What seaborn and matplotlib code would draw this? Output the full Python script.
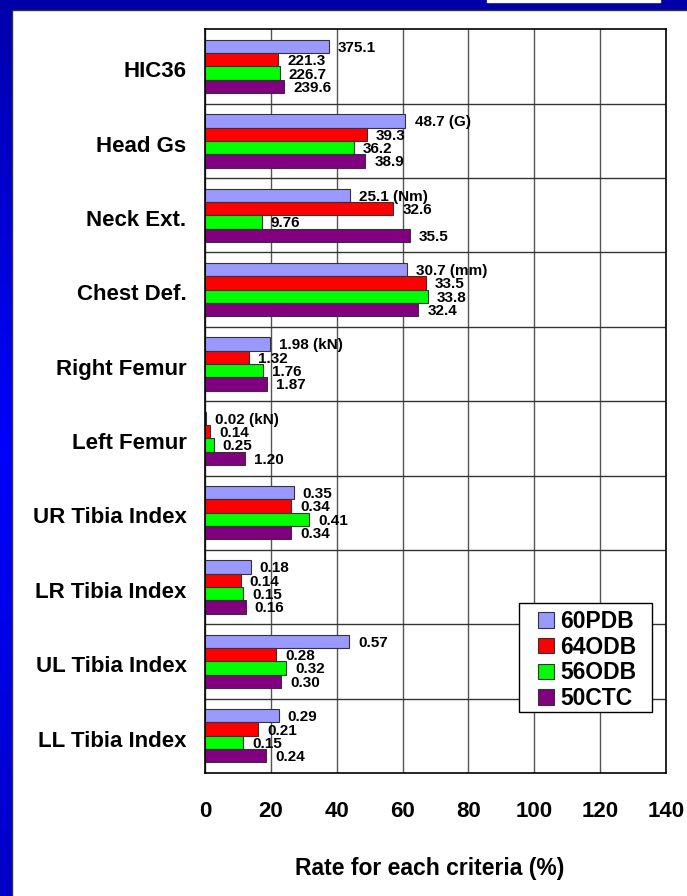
import matplotlib
matplotlib.use("Agg")
import matplotlib.pyplot as plt
import matplotlib.patches as patches
from matplotlib.lines import Line2D
from matplotlib.transforms import ScaledTranslation
import numpy as np
import pandas as pd
import seaborn as sns

# criteria and measured values (labels as printed on the chart)
categories = ["HIC36", "Head Gs", "Neck Ext.", "Chest Def.", "Right Femur",
              "Left Femur", "UR Tibia Index", "LR Tibia Index",
              "UL Tibia Index", "LL Tibia Index"]
criteria = [1000, 80, 57, 50, 10, 10, 1.3, 1.3, 1.3, 1.3]
units = ["", " (G)", " (Nm)", " (mm)", " (kN)", " (kN)", "", "", "", ""]

series = ["60PDB", "64ODB", "56ODB", "50CTC"]
raw_60pdb = ["375.1", "48.7", "25.1", "30.7", "1.98", "0.02", "0.35", "0.18", "0.57", "0.29"]
raw_64odb = ["221.3", "39.3", "32.6", "33.5", "1.32", "0.14", "0.34", "0.14", "0.28", "0.21"]
raw_56odb = ["226.7", "36.2", "9.76", "33.8", "1.76", "0.25", "0.41", "0.15", "0.32", "0.15"]
raw_50ctc = ["239.6", "38.9", "35.5", "32.4", "1.87", "1.20", "0.34", "0.16", "0.30", "0.24"]
colors = ["#9999FF", "#FF0000", "#00FF00", "#800080"]

raws = [raw_60pdb, raw_64odb, raw_56odb, raw_50ctc]
rows = []
for s, raw in zip(series, raws):
    for c, crit, r in zip(categories, criteria, raw):
        rows.append({"category": c, "series": s, "rate": float(r) / crit * 100})
df = pd.DataFrame(rows)

sns.set_theme(style="white")
plt.rcParams["font.family"] = ["Liberation Sans", "DejaVu Sans"]
plt.rcParams["font.weight"] = "bold"
for k in ["text.color", "axes.labelcolor", "xtick.color", "ytick.color"]:
    plt.rcParams[k] = "black"

fig = plt.figure(figsize=(6.87, 8.96), dpi=100)
fig.patch.set_facecolor("white")

# slide frame: blue strips
W, H = 687, 896
lax = fig.add_axes([0, 0, 12 / W, 1])
grad = np.interp(np.linspace(0, 1, 200), [0, 0.5, 1], [0.67, 1.0, 0.78])
img = np.zeros((200, 1, 3))
img[:, 0, 2] = grad
lax.imshow(img, aspect="auto", extent=[0, 1, 0, 1], origin="upper")
lax.axis("off")
tax = fig.add_axes([0, 1 - 10 / H, 1, 10 / H])
tax.set_facecolor("#0000AA")
tax.set_xticks([]); tax.set_yticks([])
for sp in tax.spines.values():
    sp.set_visible(False)
tax.add_patch(patches.Rectangle((487 / W, 0.8), (660 - 487) / W, 0.2, color="white",
                                transform=tax.transAxes))
fig.add_artist(Line2D([12 / W, 12 / W], [0, 1 - 10 / H], color="#333333", lw=1))
fig.add_artist(Line2D([12 / W, 1], [1 - 10 / H, 1 - 10 / H], color="#333333", lw=1))

ax = fig.add_axes([205.3 / W, 1 - 773 / H, (665.7 - 205.3) / W, (773 - 29.3) / H])
sns.barplot(data=df, x="rate", y="category", hue="series", order=categories,
            hue_order=series, palette=colors, saturation=1, width=0.717,
            edgecolor="#333333", linewidth=0.8, legend=False, ax=ax)

# value labels
for i, cont in enumerate(ax.containers):
    for j, bar in enumerate(cont):
        txt = raws[i][j] + (units[j] if i == 0 else "")
        ax.annotate(txt, xy=(bar.get_width(), bar.get_y() + bar.get_height() / 2),
                    xytext=(6.5, -1), textcoords="offset points",
                    ha="left", va="center", fontsize=11, fontweight="bold",
                    color="black")

ax.set_xlim(0, 140)
ax.set_ylim(len(categories) - 0.5, -0.5)
ax.set_xticks(range(0, 141, 20))
ax.set_yticks(np.arange(0.5, len(categories) - 0.5, 1), minor=True)
ax.set_axisbelow(True)
ax.grid(axis="x", which="major", color="#555555", lw=1)
ax.grid(axis="y", which="minor", color="#333333", lw=1)
ax.tick_params(axis="x", length=0, pad=20.5, labelsize=16)
ax.tick_params(axis="y", which="both", length=0, pad=13.5, labelsize=16)
shift = ScaledTranslation(0, -2 / 72, fig.dpi_scale_trans)
for lbl in ax.get_yticklabels():
    lbl.set_transform(lbl.get_transform() + shift)
for lbl in ax.get_xticklabels() + ax.get_yticklabels():
    lbl.set_fontweight("bold")
for sp in ax.spines.values():
    sp.set_color("black")
    sp.set_linewidth(1.2)
ax.set_ylabel("")
ax.set_xlabel("Rate for each criteria (%)", fontsize=16.5, fontweight="bold", labelpad=25)
ax.xaxis.label.set_x(0.488)

# legend: own box, frameless legend inside
ax.add_patch(patches.Rectangle((0.6807, 0.0816), 0.9696 - 0.6807, 0.2282 - 0.0816,
                               transform=ax.transAxes, facecolor="white",
                               edgecolor="black", linewidth=1, zorder=5))
handles = [patches.Patch(facecolor=c, edgecolor="#333333", linewidth=0.8, label=s)
           for c, s in zip(colors, series)]
leg = ax.legend(handles=handles, loc="upper left", bbox_to_anchor=(0.7226, 0.2195),
                borderaxespad=0, borderpad=0, frameon=False,
                prop={"weight": "bold", "size": 16.5},
                handlelength=0.68, handleheight=0.68, handletextpad=0.3,
                labelspacing=0.125)
leg.set_zorder(6)

fig.savefig("out.png", dpi=100)
